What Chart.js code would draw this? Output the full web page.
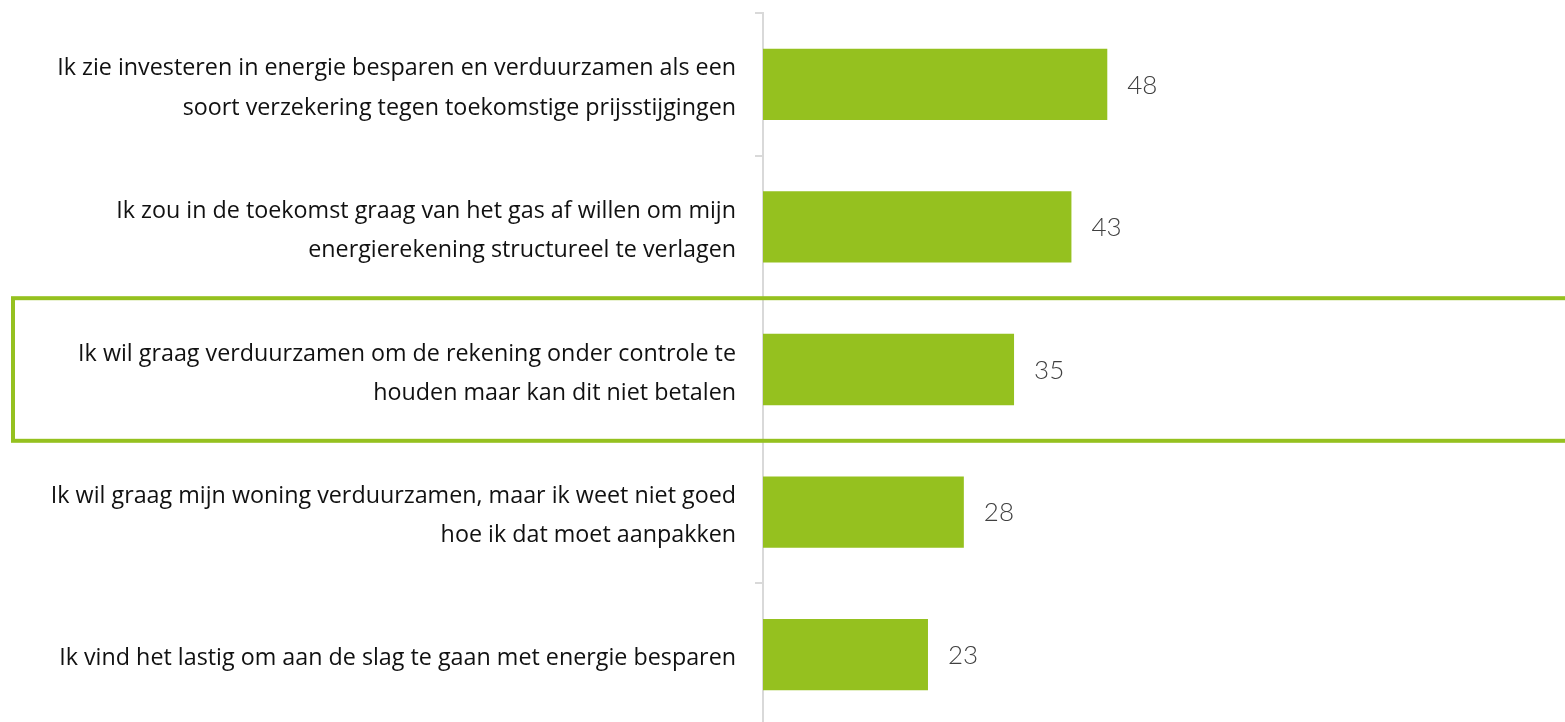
<!DOCTYPE html>
<html>
<head>
<meta charset="utf-8">
<script src="https://cdn.jsdelivr.net/npm/chart.js@4"></script>
<style>
  html, body { margin: 0; padding: 0; background: #fff; overflow: hidden; }
  #wrap { width: 1565px; height: 726px; position: relative; }
</style>
</head>
<body>
<div id="wrap"><canvas id="grafiek"></canvas></div>
<script>
const categorieen = [
  ['Ik zie investeren in energie besparen en verduurzamen als een', 'soort verzekering tegen toekomstige prijsstijgingen'],
  ['Ik zou in de toekomst graag van het gas af willen om mijn', 'energierekening structureel te verlagen'],
  ['Ik wil graag verduurzamen om de rekening onder controle te', 'houden maar kan dit niet betalen'],
  ['Ik wil graag mijn woning verduurzamen, maar ik weet niet goed', 'hoe ik dat moet aanpakken'],
  ['Ik vind het lastig om aan de slag te gaan met energie besparen']
];
const waarden = [48, 43, 35, 28, 23];
const gemarkeerd = [2]; // index van de omkaderde stelling

const groen = '#95c11f';

// waarden rechts naast de balken
const waardeLabels = {
  id: 'waardeLabels',
  afterDatasetsDraw(chart) {
    const ctx = chart.ctx;
    const meta = chart.getDatasetMeta(0);
    ctx.save();
    ctx.font = '300 26px Lato, "Open Sans", sans-serif';
    ctx.fillStyle = '#404040';
    ctx.textAlign = 'left';
    ctx.textBaseline = 'middle';
    meta.data.forEach((bar, i) => {
      ctx.fillText(String(waarden[i]), bar.x + 20, bar.y + 1);
    });
    ctx.restore();
  }
};

// groen kader rond de gemarkeerde stelling
const kader = {
  id: 'kader',
  afterDraw(chart) {
    const ctx = chart.ctx;
    const y = chart.scales.y;
    const stap = Math.abs(y.getPixelForValue(1) - y.getPixelForValue(0));
    ctx.save();
    ctx.strokeStyle = groen;
    ctx.lineWidth = 4;
    gemarkeerd.forEach(i => {
      const midden = y.getPixelForValue(i);
      ctx.strokeRect(13, midden - stap / 2, chart.width + 20, stap);
    });
    ctx.restore();
  }
};

const ctx = document.getElementById('grafiek').getContext('2d');

const grafiek = new Chart(ctx, {
  type: 'bar',
  data: {
    labels: categorieen,
    datasets: [{
      data: waarden,
      backgroundColor: groen,
      borderWidth: 0,
      categoryPercentage: 0.5,
      barPercentage: 1
    }]
  },
  options: {
    indexAxis: 'y',
    responsive: true,
    maintainAspectRatio: false,
    animation: false,
    layout: { padding: { top: 13, right: 13, bottom: 0, left: 0 } },
    plugins: {
      legend: { display: false },
      tooltip: { enabled: false }
    },
    scales: {
      x: {
        display: false,
        min: 0,
        max: 110
      },
      y: {
        afterFit(scale) {
          scale.width = 763;
          scale.paddingTop = 0;    // geen extra ruimte voor de buitenste labels
          scale.paddingBottom = 0;
        },
        grid: {
          drawOnChartArea: false,
          drawTicks: true,
          tickLength: 8,
          color: '#d9d9d9',
          lineWidth: 2
        },
        border: { display: true, color: '#d9d9d9', width: 2 },
        ticks: {
          padding: 19,
          labelOffset: 4,
          color: '#111',
          font: { family: '"Open Sans", sans-serif', size: 23.3, lineHeight: 1.68 }
        }
      }
    }
  },
  plugins: [waardeLabels, kader]
});
</script>
</body>
</html>
